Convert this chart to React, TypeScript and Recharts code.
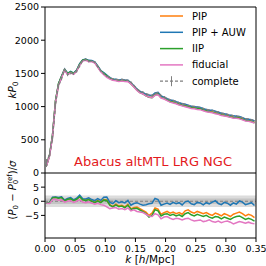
import React from 'react';
import {
  LineChart,
  Line,
  XAxis,
  YAxis,
  ReferenceLine,
  ReferenceArea,
  ErrorBar,
  Legend,
} from 'recharts';

// k bin centres [h/Mpc]
const K = [
  0.0025, 0.0075, 0.0125, 0.0175, 0.0225, 0.0275, 0.0325, 0.0375, 0.0425, 0.0475,
  0.0525, 0.0575, 0.0625, 0.0675, 0.0725, 0.0775, 0.0825, 0.0875, 0.0925, 0.0975,
  0.1025, 0.1075, 0.1125, 0.1175, 0.1225, 0.1275, 0.1325, 0.1375, 0.1425, 0.1475,
  0.1525, 0.1575, 0.1625, 0.1675, 0.1725, 0.1775, 0.1825, 0.1875, 0.1925, 0.1975,
  0.2025, 0.2075, 0.2125, 0.2175, 0.2225, 0.2275, 0.2325, 0.2375, 0.2425, 0.2475,
  0.2525, 0.2575, 0.2625, 0.2675, 0.2725, 0.2775, 0.2825, 0.2875, 0.2925, 0.2975,
  0.3025, 0.3075, 0.3125, 0.3175, 0.3225, 0.3275, 0.3325, 0.3375, 0.3425, 0.3475,
];

// complete-sample kP0 and its error
const KP0_COMPLETE = [
  150, 290, 520, 1040, 1310, 1420, 1555, 1480, 1505, 1495,
  1530, 1610, 1690, 1705, 1680, 1685, 1670, 1600, 1540, 1495,
  1460, 1440, 1420, 1410, 1405, 1410, 1405, 1395, 1370, 1320,
  1270, 1235, 1220, 1195, 1180, 1170, 1200, 1210, 1170, 1150,
  1125, 1105, 1095, 1080, 1060, 1050, 1035, 1020, 1010, 1005,
  995, 990, 975, 960, 950, 945, 930, 920, 905, 895,
  885, 875, 865, 860, 850, 835, 820, 815, 805, 790,
];
const KP0_ERR = [
  60, 45, 40, 35, 30, 26, 24, 22, 20, 19,
  18, 17, 16, 15, 14, 13, 12.5, 12, 11.5, 11,
  10.5, 10, 9.8, 9.5, 9.2, 9, 8.8, 8.5, 8.2, 8,
  7.8, 7.6, 7.4, 7.2, 7, 6.9, 6.8, 6.7, 6.6, 6.5,
  6.4, 6.3, 6.2, 6.1, 6, 5.9, 5.8, 5.7, 5.6, 5.5,
  5.5, 5.4, 5.4, 5.3, 5.3, 5.2, 5.2, 5.1, 5.1, 5,
  5, 5, 4.9, 4.9, 4.8, 4.8, 4.7, 4.7, 4.6, 4.6,
];

// (P0 - P0ref) / sigma for each weighting scheme
const DELTA_PIP = [
  -0.6, -0.5, 1.3, 1.4, 1.2, 1.4, 0.2, 0.8, 1.0, 0.3,
  0.8, 1.8, 0.6, 0.4, 0.8, 0.1, -0.3, 0.3, -0.3, 0.6,
  0.5, -1.2, -1.8, -1.0, -1.6, -1.4, -2.0, -1.1, -2.6, -2.2,
  -2.0, -2.6, -3.2, -3.8, -5.0, -4.2, -2.4, -2.8, -4.6, -4.0,
  -3.6, -4.2, -3.8, -4.4, -4.0, -4.6, -3.4, -3.0, -3.8, -4.2,
  -3.6, -4.0, -4.4, -4.0, -4.6, -5.0, -4.2, -4.6, -5.2, -4.4,
  -4.8, -5.4, -4.6, -4.2, -3.8, -4.4, -5.2, -4.6, -5.0, -5.8,
];
const DELTA_PIP_AUW = [
  -0.6, -0.5, 1.4, 1.5, 1.3, 1.6, 0.4, 1.0, 1.3, 0.5,
  1.1, 2.2, 0.9, 0.8, 1.2, 0.6, 0.2, 0.9, 0.3, 1.4,
  1.5, -0.4, -0.8, 0.2, -0.5, -0.2, -0.6, 0.3, -1.4, -0.8,
  -0.5, -1.0, -1.4, -1.2, -0.9, -0.7, 1.0, 0.6, -1.4, -1.0,
  -0.6, -1.1, -0.4, -0.9, -0.5, -1.3, -0.2, 0.1, -0.9, -1.2,
  -0.4, -0.6, -1.3, -0.5, -0.9, -0.3, 0.2, -0.8, -1.2, -0.4,
  -0.7, -1.4, -0.6, -1.0, 0.1, -0.3, -1.2, -0.9, -0.5, -1.5,
];
const DELTA_IIP = [
  -0.6, -0.6, 1.2, 1.3, 1.1, 1.3, 0.1, 0.7, 0.9, 0.2,
  0.7, 1.6, 0.5, 0.3, 0.6, 0.0, -0.5, 0.1, -0.5, 0.4,
  0.3, -1.4, -2.0, -1.3, -1.9, -1.7, -2.3, -1.4, -2.9, -2.6,
  -2.5, -3.1, -3.7, -4.4, -5.6, -5.0, -3.0, -3.4, -5.2, -4.6,
  -4.4, -5.0, -4.6, -5.2, -4.8, -5.4, -4.4, -4.0, -4.8, -5.2,
  -4.6, -5.0, -5.4, -5.0, -5.6, -6.0, -5.4, -5.6, -6.2, -5.6,
  -6.0, -6.4, -5.8, -5.4, -5.2, -5.8, -6.4, -6.0, -6.4, -7.0,
];
const DELTA_FIDUCIAL = [
  -0.7, -0.8, 0.6, 0.7, 0.4, 0.5, -0.3, 0.0, 0.2, -0.4,
  0.0, 0.6, -0.3, -0.5, -0.2, -0.6, -1.0, -0.7, -1.2, -1.4,
  -2.0, -2.6, -2.4, -2.2, -2.8, -2.6, -3.0, -2.4, -3.4, -3.0,
  -3.6, -3.8, -4.0, -4.6, -5.2, -5.4, -4.4, -4.8, -6.2, -5.6,
  -5.4, -6.0, -6.4, -6.0, -6.2, -6.6, -6.2, -6.0, -6.6, -7.0,
  -6.8, -6.6, -7.2, -7.0, -6.6, -7.2, -7.4, -7.0, -7.6, -7.2,
  -7.0, -7.4, -8.0, -7.6, -7.2, -7.4, -7.8, -7.4, -7.8, -8.0,
];

const X_TICKS = [0, 0.05, 0.1, 0.15, 0.2, 0.25, 0.3, 0.35];
const TOP_Y_TICKS = [0, 500, 1000, 1500, 2000, 2500];
const BOTTOM_Y_TICKS = [-5, 0, 5];

const SERIES = [
  { key: 'pip', name: 'PIP', color: '#ff7f0e', delta: DELTA_PIP },
  { key: 'pipAuw', name: 'PIP + AUW', color: '#1f77b4', delta: DELTA_PIP_AUW },
  { key: 'iip', name: 'IIP', color: '#2ca02c', delta: DELTA_IIP },
  { key: 'fiducial', name: 'fiducial', color: '#e377c2', delta: DELTA_FIDUCIAL },
];
const COMPLETE_COLOR = '#7f7f7f';

const topData = K.map((k, i) => {
  const row: Record<string, number> = { k, complete: KP0_COMPLETE[i], err: KP0_ERR[i] };
  SERIES.forEach((s) => {
    row[s.key] = KP0_COMPLETE[i] + s.delta[i] * KP0_ERR[i];
  });
  return row;
});

const bottomData = K.map((k, i) => {
  const row: Record<string, number> = { k };
  SERIES.forEach((s) => {
    row[s.key] = s.delta[i];
  });
  return row;
});

const FONT = 'DejaVu Sans, sans-serif';
const tickStyle = { fontSize: 9.5, fill: '#000', fontFamily: FONT };
const black = { stroke: '#000' };

const minus = (v: number) => (v < 0 ? '\u2212' + Math.abs(v) : String(v));

function LegendBox() {
  const rowY = (i: number) => 10 + i * 16.3;
  return (
    <svg width={105} height={88} style={{ fontFamily: FONT }}>
      {SERIES.map((s, i) => (
        <g key={s.key}>
          <line x1={5} x2={28} y1={rowY(i)} y2={rowY(i)} stroke={s.color} strokeWidth={1.5} />
          <text x={37} y={rowY(i)} dy="0.35em" fontSize={10}>
            {s.name}
          </text>
        </g>
      ))}
      <g>
        <line
          x1={5}
          x2={28}
          y1={rowY(4)}
          y2={rowY(4)}
          stroke={COMPLETE_COLOR}
          strokeWidth={1.2}
          strokeDasharray="3 2"
        />
        <line x1={16.5} x2={16.5} y1={rowY(4) - 5} y2={rowY(4) + 5} stroke={COMPLETE_COLOR} />
        <text x={37} y={rowY(4)} dy="0.35em" fontSize={10}>
          complete
        </text>
      </g>
    </svg>
  );
}

export default function App() {
  return (
    <div style={{ position: 'absolute', left: 0, top: 0, width: 266, height: 266, background: '#fff' }}>
      <div style={{ position: 'absolute', left: 0, top: 0 }}>
        <LineChart width={266} height={186} data={topData} margin={{ top: 7, right: 10, bottom: 13, left: 0 }}>
          <XAxis dataKey="k" type="number" domain={[0, 0.35]} ticks={X_TICKS} hide allowDataOverflow />
          <YAxis
            type="number"
            domain={[0, 2500]}
            ticks={TOP_Y_TICKS}
            interval={0}
            width={45}
            tickSize={4}
            tick={tickStyle}
            tickLine={black}
            axisLine={black}
            allowDataOverflow
          />
          <ReferenceLine y={2500} stroke="#000" />
          <ReferenceLine x={0.35} stroke="#000" />
          {SERIES.map((s) => (
            <Line
              key={s.key}
              type="linear"
              dataKey={s.key}
              name={s.name}
              stroke={s.color}
              strokeWidth={1.5}
              dot={false}
              isAnimationActive={false}
            />
          ))}
          <Line
            type="linear"
            dataKey="complete"
            name="complete"
            stroke={COMPLETE_COLOR}
            strokeWidth={1.2}
            strokeDasharray="3 2"
            dot={false}
            isAnimationActive={false}
          >
            <ErrorBar dataKey="err" direction="y" width={0} stroke={COMPLETE_COLOR} strokeWidth={1} />
          </Line>
          <Legend
            layout="vertical"
            align="center"
            verticalAlign="middle"
            wrapperStyle={{ position: 'absolute', left: 155, top: 6, width: 105, height: 88 }}
            content={() => <LegendBox />}
          />
        </LineChart>
      </div>

      <div style={{ position: 'absolute', left: 0, top: 172 }}>
        <LineChart width={266} height={94} data={bottomData} margin={{ top: 1, right: 10, bottom: 0, left: 0 }}>
          <XAxis
            dataKey="k"
            type="number"
            domain={[0, 0.35]}
            ticks={X_TICKS}
            interval={0}
            height={28}
            tickSize={4}
            tickMargin={3}
            tick={tickStyle}
            tickLine={black}
            axisLine={black}
            tickFormatter={(v: number) => v.toFixed(2)}
            allowDataOverflow
          />
          <YAxis
            type="number"
            domain={[-13, 10]}
            ticks={BOTTOM_Y_TICKS}
            interval={0}
            width={45}
            tickSize={4}
            tick={tickStyle}
            tickLine={black}
            axisLine={black}
            tickFormatter={minus}
            allowDataOverflow
          />
          <ReferenceArea y1={-2} y2={2} fill="#dcdcdc" fillOpacity={1} stroke="none" />
          <ReferenceArea y1={-1} y2={1} fill="#c4c4c4" fillOpacity={1} stroke="none" />
          <ReferenceLine y={0} stroke={COMPLETE_COLOR} strokeDasharray="3 2" strokeWidth={1.2} />
          <ReferenceLine y={10} stroke="#000" />
          <ReferenceLine x={0.35} stroke="#000" />
          {SERIES.map((s) => (
            <Line
              key={s.key}
              type="linear"
              dataKey={s.key}
              name={s.name}
              stroke={s.color}
              strokeWidth={1.5}
              dot={false}
              isAnimationActive={false}
            />
          ))}
        </LineChart>
      </div>

      <svg
        width={266}
        height={266}
        style={{ position: 'absolute', left: 0, top: 0, pointerEvents: 'none', fontFamily: FONT }}
      >
        <text transform="translate(16,90) rotate(-90)" textAnchor="middle" fontSize={10.5}>
          <tspan fontStyle="italic">kP</tspan>
          <tspan dy={2} fontSize={7.5}>0</tspan>
        </text>
        <text transform="translate(16,190) rotate(-90)" textAnchor="middle" fontSize={10}>
          <tspan>(</tspan>
          <tspan fontStyle="italic">P</tspan>
          <tspan dy={2} fontSize={7}>0</tspan>
          <tspan dy={-2}> {'\u2212'} </tspan>
          <tspan fontStyle="italic">P</tspan>
          <tspan dy={2} fontSize={7}>0</tspan>
          <tspan dx={-4} dy={-6.5} fontSize={7}>ref</tspan>
          <tspan dy={4.5}>)/</tspan>
          <tspan fontStyle="italic">σ</tspan>
        </text>
        <text x={153} y={165.5} textAnchor="middle" fontSize={13} fill="#e31a1c">
          Abacus altMTL LRG NGC
        </text>
        <text x={150} y={263} textAnchor="middle" fontSize={10.5}>
          <tspan fontStyle="italic">k</tspan>
          <tspan> [</tspan>
          <tspan fontStyle="italic">h</tspan>
          <tspan>/Mpc]</tspan>
        </text>
      </svg>
    </div>
  );
}
